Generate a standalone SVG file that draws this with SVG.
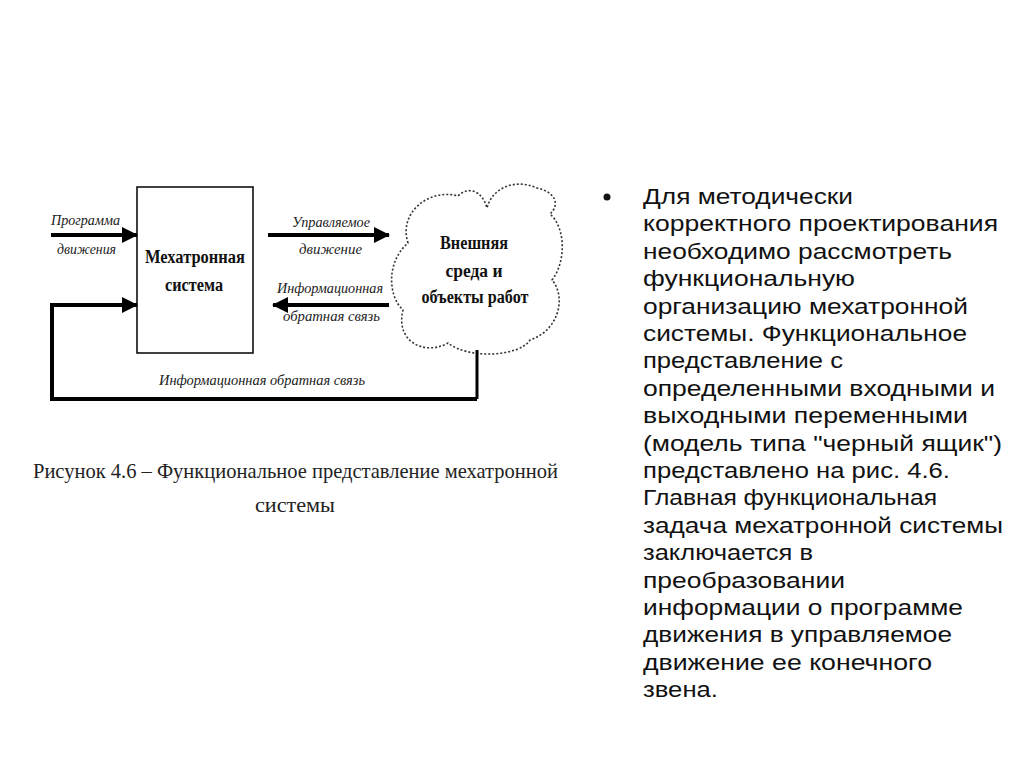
<svg xmlns="http://www.w3.org/2000/svg" width="1024" height="767" viewBox="0 0 1024 767">
<style>
.lbl{font-family:"Liberation Serif",serif;font-style:italic;font-size:14px;fill:#222}
.bold{font-family:"Liberation Serif",serif;font-weight:bold;font-size:18px;fill:#111}
.cap{font-family:"Liberation Serif",serif;font-size:22px;fill:#222}
.body{font-family:"Liberation Sans",Arial,sans-serif;font-size:21.5px;fill:#111}
.thick{stroke:#000;stroke-width:4;fill:none}
</style>
<defs>
<marker id="ah" markerUnits="userSpaceOnUse" markerWidth="16" markerHeight="16" refX="15" refY="8" orient="auto">
<path d="M0,0 L16,8 L0,16 Z" fill="#000"/>
</marker>
</defs>
<rect width="1024" height="767" fill="#fff"/>

<g id="mechatronic-system">
<rect x="137" y="187" width="116" height="166" fill="#fff" stroke="#000" stroke-width="1.5"/>
<text class="bold" x="195" y="263" text-anchor="middle" textLength="100" lengthAdjust="spacingAndGlyphs">Мехатронная</text>
<text class="bold" x="194" y="291" text-anchor="middle" textLength="58" lengthAdjust="spacingAndGlyphs">система</text>
</g>

<g id="environment">
<path d="M408,243 C398,212 430,188 458,196 C468,186 482,190 487,208 C492,188 515,178 537,188 C556,192 560,205 550,214 C566,228 566,262 552,280 C566,296 560,330 530,340 C520,356 470,360 448,343 C425,356 395,342 403,310 C388,296 386,262 408,243 Z" fill="#fff" stroke="#333" stroke-width="1.6" stroke-dasharray="2 2"/>
<text class="bold" x="474" y="249" text-anchor="middle" textLength="68" lengthAdjust="spacingAndGlyphs">Внешняя</text>
<text class="bold" x="474" y="277" text-anchor="middle" textLength="57" lengthAdjust="spacingAndGlyphs">среда и</text>
<text class="bold" x="475" y="303" text-anchor="middle" textLength="107" lengthAdjust="spacingAndGlyphs">объекты работ</text>
</g>

<g id="connectors">
<line class="thick" x1="51" y1="235" x2="137" y2="235" marker-end="url(#ah)"/>
<line class="thick" x1="268" y1="235" x2="389" y2="235" marker-end="url(#ah)"/>
<line class="thick" x1="389" y1="305" x2="273" y2="305" marker-end="url(#ah)"/>
<path d="M477,350 L477,399" stroke="#000" stroke-width="3" fill="none"/>
<path class="thick" d="M477,399 L52,399 L52,305 L137,305" marker-end="url(#ah)"/>
</g>

<g id="labels">
<text class="lbl" x="51" y="225" textLength="69" lengthAdjust="spacingAndGlyphs">Программа</text>
<text class="lbl" x="57" y="254" textLength="59" lengthAdjust="spacingAndGlyphs">движения</text>
<text class="lbl" x="292" y="227" textLength="78" lengthAdjust="spacingAndGlyphs">Управляемое</text>
<text class="lbl" x="299" y="254" textLength="63" lengthAdjust="spacingAndGlyphs">движение</text>
<text class="lbl" x="277" y="293" textLength="106" lengthAdjust="spacingAndGlyphs">Информационная</text>
<text class="lbl" x="283" y="321" textLength="97" lengthAdjust="spacingAndGlyphs">обратная связь</text>
<text class="lbl" x="159" y="385" textLength="206" lengthAdjust="spacingAndGlyphs">Информационная обратная связь</text>
</g>

<g id="caption">
<text class="cap" x="33" y="478" textLength="525" lengthAdjust="spacingAndGlyphs">Рисунок 4.6 – Функциональное представление мехатронной</text>
<text class="cap" x="295" y="512" text-anchor="middle" textLength="80" lengthAdjust="spacingAndGlyphs">системы</text>
</g>

<g id="bullet-text">
<circle cx="607" cy="197" r="3.5" fill="#111"/>
<text class="body" x="643" y="204" textLength="210" lengthAdjust="spacingAndGlyphs">Для методически</text>
<text class="body" x="643" y="231.4" textLength="355" lengthAdjust="spacingAndGlyphs">корректного проектирования</text>
<text class="body" x="643" y="258.8" textLength="309" lengthAdjust="spacingAndGlyphs">необходимо рассмотреть</text>
<text class="body" x="643" y="286.2" textLength="212" lengthAdjust="spacingAndGlyphs">функциональную</text>
<text class="body" x="643" y="313.6" textLength="325" lengthAdjust="spacingAndGlyphs">организацию мехатронной</text>
<text class="body" x="643" y="341" textLength="324" lengthAdjust="spacingAndGlyphs">системы. Функциональное</text>
<text class="body" x="643" y="368.4" textLength="200" lengthAdjust="spacingAndGlyphs">представление с</text>
<text class="body" x="643" y="395.8" textLength="352" lengthAdjust="spacingAndGlyphs">определенными входными и</text>
<text class="body" x="643" y="423.2" textLength="325" lengthAdjust="spacingAndGlyphs">выходными переменными</text>
<text class="body" x="643" y="450.6" textLength="359" lengthAdjust="spacingAndGlyphs">(модель типа "черный ящик")</text>
<text class="body" x="643" y="478" textLength="307" lengthAdjust="spacingAndGlyphs">представлено на рис. 4.6.</text>
<text class="body" x="643" y="505.4" textLength="294" lengthAdjust="spacingAndGlyphs">Главная функциональная</text>
<text class="body" x="643" y="532.8" textLength="360" lengthAdjust="spacingAndGlyphs">задача мехатронной системы</text>
<text class="body" x="643" y="560.2" textLength="170" lengthAdjust="spacingAndGlyphs">заключается в</text>
<text class="body" x="643" y="587.6" textLength="202" lengthAdjust="spacingAndGlyphs">преобразовании</text>
<text class="body" x="643" y="615" textLength="320" lengthAdjust="spacingAndGlyphs">информации о программе</text>
<text class="body" x="643" y="642.4" textLength="309" lengthAdjust="spacingAndGlyphs">движения в управляемое</text>
<text class="body" x="643" y="669.8" textLength="289" lengthAdjust="spacingAndGlyphs">движение ее конечного</text>
<text class="body" x="643" y="697.2" textLength="75" lengthAdjust="spacingAndGlyphs">звена.</text>
</g>
</svg>
